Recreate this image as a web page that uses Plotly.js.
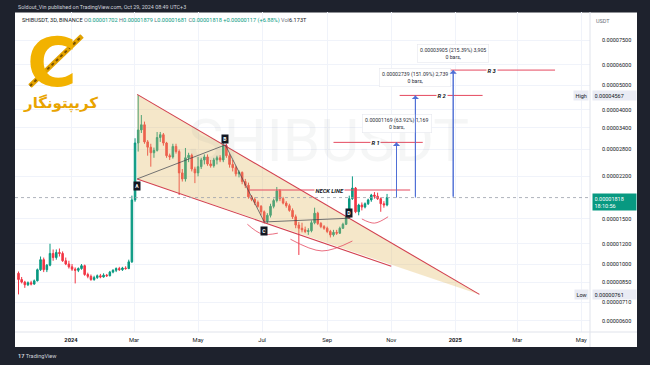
<!DOCTYPE html>
<html><head><meta charset="utf-8">
<script src="https://cdn.plot.ly/plotly-3.0.1.min.js"></script>
<style>html,body{margin:0;padding:0;background:#fff}#chart{width:650px;height:365px}</style>
</head><body><div id="chart"></div>
<script>
// ---- data (prices in units of 0.00001 USDT) ----
const PRICE_UNIT = 1e-5;
const dates = ['2023-11-12','2023-11-15','2023-11-18','2023-11-21','2023-11-24','2023-11-27','2023-11-30',
'2023-12-03','2023-12-06','2023-12-09','2023-12-12','2023-12-15','2023-12-18','2023-12-21','2023-12-24','2023-12-27','2023-12-30',
'2024-01-02','2024-01-05','2024-01-08','2024-01-11','2024-01-14','2024-01-17','2024-01-20','2024-01-23','2024-01-26','2024-01-29',
'2024-02-01','2024-02-04','2024-02-07','2024-02-10','2024-02-13','2024-02-16','2024-02-19','2024-02-22','2024-02-25','2024-02-28',
'2024-03-02','2024-03-05','2024-03-08','2024-03-11','2024-03-14','2024-03-17','2024-03-20','2024-03-23','2024-03-26','2024-03-29',
'2024-04-01','2024-04-04','2024-04-07','2024-04-10','2024-04-13','2024-04-16','2024-04-19','2024-04-22','2024-04-25','2024-04-28',
'2024-05-01','2024-05-04','2024-05-07','2024-05-10','2024-05-13','2024-05-16','2024-05-19','2024-05-22','2024-05-25','2024-05-28','2024-05-31',
'2024-06-03','2024-06-06','2024-06-09','2024-06-12','2024-06-15','2024-06-18','2024-06-21','2024-06-24','2024-06-27','2024-06-30',
'2024-07-03','2024-07-06','2024-07-09','2024-07-12','2024-07-15','2024-07-18','2024-07-21','2024-07-24','2024-07-27','2024-07-30',
'2024-08-02','2024-08-05','2024-08-08','2024-08-11','2024-08-14','2024-08-17','2024-08-20','2024-08-23','2024-08-26','2024-08-29',
'2024-09-01','2024-09-04','2024-09-07','2024-09-10','2024-09-13','2024-09-16','2024-09-19','2024-09-22','2024-09-25','2024-09-28',
'2024-10-01','2024-10-04','2024-10-07','2024-10-10','2024-10-13','2024-10-16','2024-10-19','2024-10-22','2024-10-25','2024-10-28'];
const openP = [0.92,0.87,0.85,0.83,0.845,0.835,0.86,0.95,1.04,0.95,
0.99,1.1,1.06,1.11,1.1,1.03,1.0,0.975,0.955,0.945,
0.96,0.985,0.91,0.895,0.87,0.885,0.9,0.89,0.905,0.9,
0.93,0.945,0.96,0.95,0.965,0.96,1.02,1.78,2.97,3.34,
3.5,3.0,2.86,2.72,2.78,3.12,3.2,2.97,2.65,2.62,
2.88,2.75,2.27,2.15,2.6,2.66,2.35,2.27,2.4,2.55,
2.62,2.46,2.42,2.55,2.6,2.55,2.9,2.65,2.45,2.38,
2.25,2.28,2.1,2.03,1.83,1.79,1.74,1.68,1.6,1.47,
1.55,1.68,1.77,1.93,1.8,1.73,1.69,1.62,1.53,1.42,
1.38,1.36,1.34,1.35,1.45,1.58,1.44,1.4,1.38,1.34,
1.3,1.33,1.32,1.38,1.43,1.52,1.8,1.98,1.6,1.7,
1.67,1.72,1.78,1.86,1.84,1.8,1.72,1.702];
const highP = [0.935,0.89,0.86,0.855,0.86,0.87,0.96,1.07,1.06,1.0,
1.2,1.14,1.14,1.15,1.12,1.06,1.03,1.0,0.97,0.97,
1.0,0.995,0.925,0.91,0.9,0.91,0.915,0.92,0.915,0.94,
0.955,0.97,0.975,0.975,0.98,1.04,1.85,3.1,4.567,3.82,
3.6,3.05,2.95,2.85,3.28,3.28,3.25,3.0,2.7,2.95,
2.95,2.8,2.35,2.84,2.72,2.7,2.4,2.62,2.6,2.68,
2.68,2.55,2.6,2.65,2.66,2.97,2.95,2.7,2.55,2.42,
2.32,2.3,2.15,2.08,1.86,1.82,1.77,1.7,1.62,1.58,
1.72,1.8,2.0,1.96,1.83,1.76,1.72,1.65,1.56,1.46,
1.45,1.4,1.38,1.48,1.66,1.6,1.46,1.42,1.4,1.36,
1.36,1.36,1.4,1.45,1.54,1.85,2.2,2.0,1.72,1.74,
1.74,1.8,1.88,1.91,1.9,1.82,1.76,1.879];
const lowP = [0.761,0.84,0.807,0.82,0.825,0.83,0.855,0.94,0.93,0.93,
0.98,1.03,1.04,1.07,1.02,0.99,0.96,0.94,0.84,0.93,
0.95,0.9,0.88,0.86,0.86,0.875,0.88,0.885,0.89,0.895,
0.92,0.93,0.94,0.94,0.95,0.955,1.01,1.75,2.75,3.25,
2.95,2.65,2.4,2.6,2.75,3.0,2.9,2.6,2.55,2.58,
2.7,1.86,2.1,2.1,2.5,2.3,2.07,2.2,2.35,2.45,
2.42,2.38,2.38,2.45,2.5,2.5,2.6,2.38,2.3,2.2,
2.18,2.05,1.98,1.8,1.76,1.7,1.66,1.55,1.44,1.44,
1.52,1.65,1.74,1.76,1.71,1.66,1.6,1.5,1.38,1.085,
1.33,1.32,1.3,1.33,1.43,1.42,1.38,1.36,1.32,1.27,
1.28,1.3,1.31,1.37,1.42,1.5,1.78,1.58,1.55,1.62,
1.65,1.7,1.75,1.8,1.78,1.6,1.66,1.681];
const closeP = [0.87,0.85,0.83,0.845,0.835,0.86,0.95,1.04,0.95,0.99,
1.1,1.06,1.11,1.1,1.03,1.0,0.975,0.955,0.945,0.96,
0.985,0.91,0.895,0.87,0.885,0.9,0.89,0.905,0.9,0.93,
0.945,0.96,0.95,0.965,0.96,1.02,1.78,2.97,3.34,3.5,
3.0,2.86,2.72,2.78,3.12,3.2,2.97,2.65,2.62,2.88,
2.75,2.27,2.15,2.6,2.66,2.35,2.27,2.4,2.55,2.62,
2.46,2.42,2.55,2.6,2.55,2.9,2.65,2.45,2.38,2.25,
2.28,2.1,2.03,1.83,1.79,1.74,1.68,1.6,1.47,1.55,
1.68,1.77,1.93,1.8,1.73,1.69,1.62,1.53,1.42,1.38,
1.36,1.34,1.35,1.45,1.58,1.44,1.4,1.38,1.34,1.3,
1.33,1.32,1.38,1.43,1.52,1.8,1.98,1.6,1.7,1.67,
1.72,1.78,1.86,1.84,1.8,1.72,1.702,1.818];

// price-scale ticks and time-scale ticks
const priceTicks = [7.5,6.0,5.0,4.0,3.4,2.8,2.2,1.5,1.2,1.0,0.85,0.71,0.6];
const priceTickText = ['0.00007500','0.00006000','0.00005000','0.00004000','0.00003400','0.00002800','0.00002200','0.00001500','0.00001200','0.00001000','0.00000850','0.00000710','0.00000600'];
const timeTicks = ['2024-01-01','2024-03-01','2024-05-01','2024-07-01','2024-09-01','2024-11-01','2025-01-01','2025-03-01','2025-05-01'];
const timeTickText = ['<b>2024</b>','Mar','May','Jul','Sep','Nov','<b>2025</b>','Mar','May'];

// drawings (dates / prices)
const lastPrice = 1.818, visHigh = 4.567, visLow = 0.761;
const wedgeDates = ['2024-03-04','2025-01-24','2024-03-04'];
const wedgePrices = [4.6, 0.761, 2.15];
const wedgeLowerEnd = ['2024-11-01', 0.98];
const abcdNames = ['A','B','C','D'];
const abcdDates = ['2024-03-04','2024-05-27','2024-07-03','2024-09-22'];
const abcdPrices = [2.15, 2.92, 1.46, 1.51];
const abcdLabelPrices = [2.02, 3.07, 1.345, 1.585];
const neckDates = ['2024-06-19','2024-11-19'];
const neckPrice = 1.946;
const neckLabelDate = '2024-09-03';
const levelNames = ['R 1','R 2','R 3'];
const levelPrices = [2.987, 4.557, 5.723];
const levelStart = ['2024-09-07','2024-11-09','2024-12-10'];
const levelEnd = ['2024-12-01','2025-01-27','2025-04-06'];
const levelLabelDates = ['2024-10-17','2024-12-19','2025-02-05'];
const arrowDates = ['2024-11-06','2024-11-24','2024-12-30'];
const rangeTexts = ['0.00001169 (63.92%) 1,169','0.00002739 (151.09%) 2,739','0.00003905 (215.39%) 3,905'];
const rangeLabelPrices = [3.55, 5.33, 6.63];
const arcDates = [['2024-06-17','2024-07-01','2024-07-16'],['2024-07-28','2024-08-27','2024-09-25'],['2024-10-04','2024-10-16','2024-10-29']];
const arcPrices = [[1.43,1.31,1.32],[1.25,1.125,1.23],[1.50,1.445,1.53]];

// ---- build ----
const U = v => v * PRICE_UNIT;
const L10 = v => Math.log10(U(v));
const PL = 15, PR = 590, PT = 12, PB = 332, W = 650, H = 365;
const px = x => (x - PL) / (PR - PL);
const py = y => (PB - y) / (PB - PT);

const GREEN = '#089981', RED = '#f23645', WEDGE = '#d2414f', LVL = '#e5495f', BLUE = '#4f6fd6';
const FONT = 'Roboto, "Noto Sans", sans-serif';

const traces = [];
traces.push({type:'scatter', mode:'lines', x:wedgeDates, y:wedgePrices.map(U), fill:'toself',
  fillcolor:'rgba(226,186,96,0.34)', line:{width:0}, hoverinfo:'skip'});
traces.push({type:'candlestick', x:dates, open:openP.map(U), high:highP.map(U), low:lowP.map(U), close:closeP.map(U),
  increasing:{line:{color:GREEN,width:1}, fillcolor:GREEN},
  decreasing:{line:{color:RED,width:1}, fillcolor:RED}, whiskerwidth:0, hoverinfo:'skip'});
traces.push({type:'scatter', mode:'lines', x:[wedgeDates[0],wedgeDates[1]], y:[U(wedgePrices[0]),U(wedgePrices[1])], line:{color:WEDGE,width:1.1}});
traces.push({type:'scatter', mode:'lines', x:[wedgeDates[2],wedgeLowerEnd[0]], y:[U(wedgePrices[2]),U(wedgeLowerEnd[1])], line:{color:WEDGE,width:1.1}});
traces.push({type:'scatter', mode:'lines', x:abcdDates, y:abcdPrices.map(U), line:{color:'#3a3f4b',width:0.7}});
arcDates.forEach((d,i)=>traces.push({type:'scatter', mode:'lines', x:d, y:arcPrices[i].map(U), line:{color:LVL,width:0.8,shape:'spline'}}));
traces.push({type:'scatter', mode:'lines', x:neckDates, y:[U(neckPrice),U(neckPrice)], line:{color:LVL,width:1}});
levelNames.forEach((n,i)=>traces.push({type:'scatter', mode:'lines', x:[levelStart[i],levelEnd[i]], y:[U(levelPrices[i]),U(levelPrices[i])], line:{color:LVL,width:1}}));
arrowDates.forEach((d,i)=>traces.push({type:'scatter', mode:'lines', x:[d,d], y:[U(lastPrice),U(levelPrices[i])], line:{color:BLUE,width:1}}));

const shapes = [
  {type:'rect', xref:'paper', yref:'paper', x0:px(0), x1:px(W), y0:py(0), y1:py(12.5), fillcolor:'#1e222d', line:{width:0}, layer:'below'},
  {type:'rect', xref:'paper', yref:'paper', x0:px(0), x1:px(PL), y0:py(H), y1:py(0), fillcolor:'#1e222d', line:{width:0}, layer:'below'},
  {type:'rect', xref:'paper', yref:'paper', x0:px(637), x1:px(W), y0:py(H), y1:py(0), fillcolor:'#1e222d', line:{width:0}, layer:'below'},
  {type:'rect', xref:'paper', yref:'paper', x0:px(0), x1:px(W), y0:py(H), y1:py(347), fillcolor:'#1e222d', line:{width:0}, layer:'below'},
  {type:'line', xref:'paper', yref:'y', x0:0, x1:1, y0:U(lastPrice), y1:U(lastPrice), line:{color:'#9aa0ab',width:0.8,dash:'dot'}},
  {type:'line', xref:'paper', yref:'paper', x0:1, x1:1, y0:py(347), y1:1, line:{color:'#e0e3eb',width:1}},
  {type:'line', xref:'paper', yref:'paper', x0:0, x1:px(637), y0:0, y1:0, line:{color:'#e0e3eb',width:1}},
  // logo chain
  {type:'line', xref:'paper', yref:'paper', x0:px(30), y0:py(86), x1:px(82), y1:py(36), line:{color:'#e3a300',width:5}},
  {type:'line', xref:'paper', yref:'paper', x0:px(30), y0:py(86), x1:px(82), y1:py(36), line:{color:'#7a5200',width:2,dash:'dot'}}
];

const ann = [];
const T = (text, x, y, o) => ann.push(Object.assign({text, x, y, xref:'paper', yref:'paper', showarrow:false, xanchor:'left', yanchor:'middle', font:{family:FONT,size:5.5,color:'#131722'}}, o||{}));
T('Soldout_Vin published on TradingView.com, Oct 29, 2024 08:49 UTC+3', px(16), py(6.5), {font:{family:FONT,size:5.4,color:'#d1d4dc'}});
T('SHIBUSDT, 3D, BINANCE <span style="color:#6a6d78">O</span><span style="color:#089981">0.00001702</span> <span style="color:#6a6d78">H</span><span style="color:#089981">0.00001879</span> <span style="color:#6a6d78">L</span><span style="color:#089981">0.00001681</span> <span style="color:#6a6d78">C</span><span style="color:#089981">0.00001818 +0.00000117 (+6.88%)</span> <span style="color:#6a6d78">Vol</span>6.173T', px(20), py(20.5), {font:{family:FONT,size:5.6,color:'#131722'}});
T('USDT', px(594), py(21), {font:{family:FONT,size:5.5,color:'#6a6d78'}});
T('<b>17</b> TradingView', px(16), py(356), {font:{family:FONT,size:5.6,color:'#d1d4dc'}});
// logo
T('<b>C</b>', px(52), py(62), {xanchor:'center', font:{family:'DejaVu Sans, sans-serif',size:68,color:'#f2b200'}});
T('<b>کریپتونگار</b>', px(60), py(103), {xanchor:'center', font:{family:'DejaVu Sans, sans-serif',size:15,color:'#e9a400'}});
// watermark
T('SHIBUSDT', px(328), py(140), {xanchor:'center', font:{family:FONT,size:60,color:'rgba(120,123,134,0.07)'}});
// price scale labels
T('0.00001818<br>18:10:56', px(592), L10(lastPrice), {yref:'y', yanchor:'top', yshift:5, align:'left', bgcolor:GREEN, borderpad:1.5, width:40, font:{family:FONT,size:5.5,color:'#ffffff'}});
T('0.00004567', px(592), L10(visHigh), {yref:'y', bgcolor:'#e9ebf4', borderpad:1.5, width:40, align:'left'});
T('High', px(589), L10(visHigh), {yref:'y', xanchor:'right', bgcolor:'#e9ebf4', borderpad:1.5});
T('0.00000761', px(592), L10(visLow), {yref:'y', bgcolor:'#e9ebf4', borderpad:1.5, width:40, align:'left'});
T('Low', px(589), L10(visLow), {yref:'y', xanchor:'right', bgcolor:'#e9ebf4', borderpad:1.5});
// ABCD markers
abcdNames.forEach((n,i)=>ann.push({text:'<b>'+n+'</b>', x:abcdDates[i], y:L10(abcdLabelPrices[i]), xref:'x', yref:'y', showarrow:false, bgcolor:'#131722', borderpad:1.2, font:{family:FONT,size:5,color:'#ffffff'}}));
ann.push({text:'<b><i>NECK LINE</i></b>', x:neckLabelDate, y:L10(neckPrice), xref:'x', yref:'y', showarrow:false, bgcolor:'#ffffff', borderpad:0.5, font:{family:FONT,size:5.8,color:'#131722'}});
levelNames.forEach((n,i)=>{
  ann.push({text:'<b><i>'+n+'</i></b>', x:levelLabelDates[i], y:L10(levelPrices[i]), xref:'x', yref:'y', showarrow:false, bgcolor:'#ffffff', borderpad:0.5, font:{family:FONT,size:5.8,color:'#131722'}});
  ann.push({text:'', x:arrowDates[i], y:L10(levelPrices[i]), xref:'x', yref:'y', ax:arrowDates[i], ay:L10(lastPrice), axref:'x', ayref:'y', showarrow:true, arrowhead:1, arrowsize:1.2, arrowwidth:1, arrowcolor:BLUE});
  ann.push({text:rangeTexts[i]+'<br>0 bars,', x:arrowDates[i], y:L10(rangeLabelPrices[i]), xref:'x', yref:'y', showarrow:false, bgcolor:'#ffffff', bordercolor:'#e6e8ee', borderwidth:0.6, borderpad:2.5, font:{family:FONT,size:5.2,color:'#2a2e39'}});
});

const layout = {
  width:W, height:H, showlegend:false,
  margin:{l:PL, r:W-PR, t:PT, b:H-PB, pad:0},
  paper_bgcolor:'#ffffff', plot_bgcolor:'#ffffff',
  xaxis:{type:'date', range:['2023-11-08 16:00','2025-05-09 07:00'], tickvals:timeTicks, ticktext:timeTickText,
    showgrid:true, gridcolor:'#f0f3fa', gridwidth:1, zeroline:false, showline:false, ticks:'', ticklabelstandoff:3, rangeslider:{visible:false},
    tickfont:{family:FONT,size:5.8,color:'#131722'}, fixedrange:true},
  yaxis:{type:'log', side:'right', range:[-5.2655,-4.0155], tickvals:priceTicks.map(U), ticktext:priceTickText,
    showgrid:true, gridcolor:'#f0f3fa', gridwidth:1, zeroline:false, showline:false, ticks:'', ticklabelstandoff:11,
    tickfont:{family:FONT,size:5.5,color:'#131722'}, fixedrange:true},
  shapes, annotations:ann
};
Plotly.newPlot('chart', traces, layout, {staticPlot:true, displayModeBar:false});
</script></body></html>
